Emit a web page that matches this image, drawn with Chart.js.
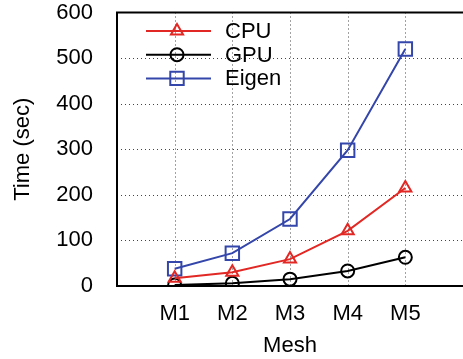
<!DOCTYPE html>
<html>
<head>
<meta charset="utf-8">
<script src="https://cdn.jsdelivr.net/npm/chart.js@4/dist/chart.umd.min.js"></script>
<style>
  html, body { margin: 0; padding: 0; background: #fff; }
  #wrap { width: 463px; height: 359px; }
</style>
</head>
<body>
<div id="wrap"><canvas id="myChart" width="463" height="359"></canvas></div>
<script>
var meshes = ['M1', 'M2', 'M3', 'M4', 'M5'];
var cpuTimes = [17, 30, 59, 121, 215];
var gpuTimes = [2, 6, 15, 33, 63];
var eigenTimes = [38, 72, 147, 298, 520];
var yTicks = [0, 100, 200, 300, 400, 500, 600];

var FONT = '"Liberation Sans", Arial, sans-serif';

function toPoints(vals) {
	return vals.map((v, i) => ({ x: i + 1, y: v }));
}

// marker drawn by hand for the key (hollow triangle / circle / square)
function keyMarker(c, style, r, x, y) {
	c.beginPath();
	if (style === 'triangle') {
		c.moveTo(x, y - r);
		c.lineTo(x + r * 0.866, y + r * 0.5);
		c.lineTo(x - r * 0.866, y + r * 0.5);
		c.closePath();
	} else if (style === 'circle') {
		c.arc(x, y, r, 0, Math.PI * 2);
	} else {
		var s = r / Math.SQRT2;
		c.rect(x - s, y - s, 2 * s, 2 * s);
	}
	c.stroke();
}

var framePlugin = {
	id: 'frameKey',
	beforeDatasetsDraw: function(chart) {
		var c = chart.ctx;
		var a = chart.chartArea;
		var xs = chart.scales.x, ys = chart.scales.y;
		c.save();
		// dotted grid
		c.strokeStyle = '#444';
		c.lineWidth = 1;
		c.setLineDash([1, 3]);
		meshes.forEach(function(m, i) {
			var px = Math.round(xs.getPixelForValue(i + 1)) + 0.5;
			c.beginPath();
			c.moveTo(px, a.top);
			c.lineTo(px, a.bottom);
			c.stroke();
		});
		yTicks.slice(1, -1).forEach(function(v) {
			var py = Math.round(ys.getPixelForValue(v)) + 0.5;
			c.beginPath();
			c.moveTo(a.left, py);
			c.lineTo(a.right, py);
			c.stroke();
		});
		// frame (right side falls off the picture)
		c.setLineDash([]);
		c.strokeStyle = '#000';
		c.lineWidth = 2;
		c.beginPath();
		c.moveTo(chart.width + 2, a.top);
		c.lineTo(a.left, a.top);
		c.lineTo(a.left, a.bottom);
		c.lineTo(chart.width + 2, a.bottom);
		c.stroke();
		c.restore();
	},
	afterDraw: function(chart) {
		var c = chart.ctx;
		chart.data.datasets.forEach(function(ds, i) {
			var y = 31 + i * 23.7;
			c.save();
			c.strokeStyle = ds.borderColor;
			c.lineWidth = 2;
			c.beginPath();
			c.moveTo(146, y);
			c.lineTo(211, y);
			c.stroke();
			keyMarker(c, ds.pointStyle, ds.pointRadius, 177, y);
			c.fillStyle = '#000';
			c.font = '22px ' + FONT;
			c.textBaseline = 'middle';
			c.fillText(ds.label, 225, y + 1);
			c.restore();
		});
	}
};

var chart = new Chart(document.getElementById('myChart'), {
	type: 'line',
	data: {
		datasets: [{
			label: 'CPU',
			data: toPoints(cpuTimes),
			borderColor: 'rgb(226, 40, 36)',
			pointBorderColor: 'rgb(226, 40, 36)',
			pointStyle: 'triangle',
			pointRadius: 7
		}, {
			label: 'GPU',
			data: toPoints(gpuTimes),
			borderColor: '#000',
			pointBorderColor: '#000',
			pointStyle: 'circle',
			pointRadius: 6.5
		}, {
			label: 'Eigen',
			data: toPoints(eigenTimes),
			borderColor: 'rgb(52, 70, 170)',
			pointBorderColor: 'rgb(52, 70, 170)',
			pointStyle: 'rect',
			pointRadius: 9.5
		}]
	},
	options: {
		responsive: false,
		animation: false,
		layout: { autoPadding: false, padding: { top: 12.5, right: 0, left: 0, bottom: 0 } },
		elements: {
			line: { borderWidth: 2, tension: 0 },
			point: { borderWidth: 2, backgroundColor: 'rgba(0,0,0,0)' }
		},
		plugins: {
			legend: { display: false },
			tooltip: { enabled: false }
		},
		scales: {
			x: {
				type: 'linear',
				min: 0,
				max: 6,
				afterBuildTicks: function(axis) {
					axis.ticks = [0, 1, 2, 3, 4, 5, 6].map(v => ({ value: v }));
				},
				afterFit: function(axis) {
					axis.height = 73;
					axis.paddingLeft = 0;
					axis.paddingRight = 0;
				},
				ticks: {
					color: '#000',
					font: { family: FONT, size: 22 },
					padding: 7,
					maxRotation: 0,
					autoSkip: false,
					callback: function(v) { return meshes[v - 1] || ''; }
				},
				grid: { display: false },
				border: { display: false },
				title: {
					display: true,
					text: 'Mesh',
					color: '#000',
					font: { family: FONT, size: 22 },
					padding: { top: 4, bottom: 0 }
				}
			},
			y: {
				min: 0,
				max: 600,
				afterBuildTicks: function(axis) {
					axis.ticks = yTicks.map(v => ({ value: v }));
				},
				afterFit: function(axis) {
					axis.width = 117;
					axis.paddingTop = 0;
					axis.paddingBottom = 0;
				},
				ticks: {
					color: '#000',
					font: { family: FONT, size: 22 },
					padding: 16
				},
				grid: { display: false },
				border: { display: false },
				title: {
					display: true,
					text: 'Time (sec)',
					color: '#000',
					font: { family: FONT, size: 22 },
					padding: { top: 10, bottom: 6 }
				}
			}
		}
	},
	plugins: [framePlugin]
});
</script>
</body>
</html>
